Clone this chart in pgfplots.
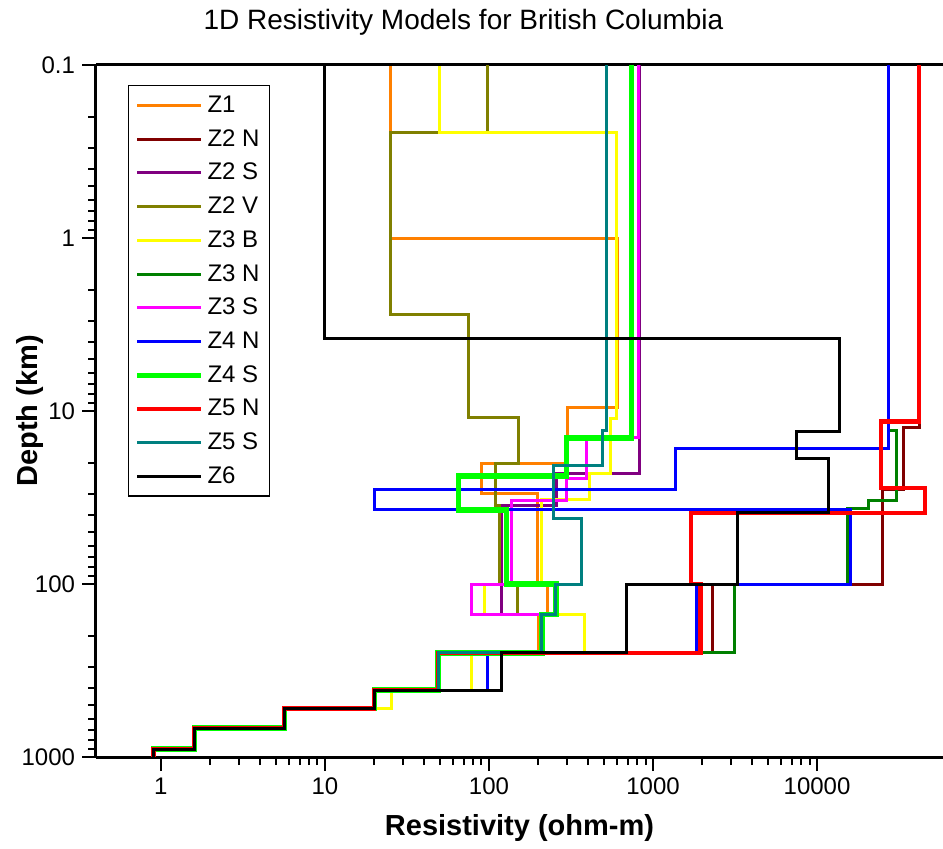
\documentclass[border=0pt]{standalone}
\usepackage{fontspec}
\setmainfont{Liberation Sans}
\usepackage{pgfplots}
\pgfplotsset{compat=1.18}
\definecolor{cZa}{RGB}{255,128,0}
\definecolor{cZb}{RGB}{128,0,0}
\definecolor{cZc}{RGB}{128,0,128}
\definecolor{cZd}{RGB}{128,128,0}
\definecolor{cZe}{RGB}{255,255,0}
\definecolor{cZf}{RGB}{0,128,0}
\definecolor{cZg}{RGB}{255,0,255}
\definecolor{cZh}{RGB}{0,0,255}
\definecolor{cZi}{RGB}{0,255,0}
\definecolor{cZj}{RGB}{255,0,0}
\definecolor{cZk}{RGB}{0,128,128}
\definecolor{cZl}{RGB}{0,0,0}
\pgfplotsset{zl/.style={line width=1.5pt}}
\begin{document}
\begin{tikzpicture}
\begin{axis}[
  at={(0,0)}, anchor=south west,
  scale only axis, width=423.5pt, height=346pt,
  xmode=log, ymode=log, y dir=reverse,
  xmin=0.402, xmax=58600, ymin=0.1, ymax=1000,
  axis x line*=box, axis y line*=left,
  xtick pos=left, ytick pos=left,
  xtick={1,10,100,1000,10000}, xticklabels={1,10,100,1000,10000},
  ytick={0.1,1,10,100,1000}, yticklabels={0.1,1,10,100,1000},
  tick align=outside,
  major tick length=7pt, minor tick length=4pt,
  every tick/.style={black, line width=1pt},
  axis line style={line width=1.5pt},
  ticklabel style={font=\fontsize{12}{14}\selectfont},
  xlabel={Resistivity (ohm-m)},
  xlabel style={at={(axis description cs:0.5,-0.1026)}, anchor=center, font=\bfseries\fontsize{14.5}{17}\selectfont},
  ylabel={Depth (km)},
  ylabel style={at={(axis description cs:-0.078,0.5)}, anchor=center, font=\bfseries\fontsize{14.5}{17}\selectfont},
  legend style={at={(axis description cs:0.0378,0.971)}, anchor=north west, draw=black, line width=0.7pt,
    font=\fontsize{12}{14}\selectfont, row sep=3pt, inner xsep=3pt, inner ysep=3pt, cells={anchor=west}},
  legend image code/.code={\draw[#1] (0pt,0pt) -- (31.7pt,0pt);},
]
\addplot[cZa, zl] coordinates {(25,0.1) (25,1) (604,1) (604,9.5) (302,9.5) (302,20.2) (90,20.2) (90,30) (199,30) (199,100) (226,100) (226,150) (200,150) (200,250) (49,250) (49,410) (20,410) (20,525) (5.65,525) (5.65,680) (1.6,680) (1.6,900) (0.9,900) (0.9,1000)};
\addlegendentry{Z1}
\addplot[cZb, zl] coordinates {(42000,0.1) (42000,12.5) (33600,12.5) (33600,28.4) (25000,28.4) (25000,100) (2290,100) (2290,250) (49,250) (49,410) (20,410) (20,525) (5.65,525) (5.65,680) (1.6,680) (1.6,900) (0.9,900) (0.9,1000)};
\addlegendentry{Z2 N}
\addplot[cZc, zl] coordinates {(830,0.1) (830,23.1) (259,23.1) (259,35) (120,35) (120,150) (208,150) (208,250) (49,250) (49,410) (20,410) (20,525) (5.65,525) (5.65,680) (1.6,680) (1.6,900) (0.9,900) (0.9,1000)};
\addlegendentry{Z2 S}
\addplot[cZd, zl] coordinates {(98,0.1) (98,0.247) (25,0.247) (25,2.75) (74.8,2.75) (74.8,10.9) (151,10.9) (151,20.2) (110,20.2) (110,35) (116,35) (116,100) (150,100) (150,150) (208,150) (208,250) (49,250) (49,410) (20,410) (20,525) (5.65,525) (5.65,680) (1.6,680) (1.6,900) (0.9,900) (0.9,1000)};
\addlegendentry{Z2 V}
\addplot[cZe, zl] coordinates {(50,0.1) (50,0.247) (600,0.247) (600,11) (547,11) (547,23.1) (409,23.1) (409,32.5) (210,32.5) (210,100) (94,100) (94,150) (380,150) (380,250) (78,250) (78,410) (25.5,410) (25.5,525) (5.65,525) (5.65,680) (1.6,680) (1.6,900) (0.9,900) (0.9,1000)};
\addlegendentry{Z3 B}
\addplot[cZf, zl] coordinates {(27100,0.1) (27100,13) (30600,13) (30600,32.7) (20600,32.7) (20600,36.5) (15300,36.5) (15300,100) (3120,100) (3120,250) (49,250) (49,410) (20,410) (20,525) (5.65,525) (5.65,680) (1.6,680) (1.6,900) (0.9,900) (0.9,1000)};
\addlegendentry{Z3 N}
\addplot[cZg, zl] coordinates {(810,0.1) (810,14.2) (394,14.2) (394,24.5) (298,24.5) (298,32.7) (138,32.7) (138,100) (78.5,100) (78.5,150) (208,150) (208,250) (49,250) (49,410) (20,410) (20,525) (5.65,525) (5.65,680) (1.6,680) (1.6,900) (0.9,900) (0.9,1000)};
\addlegendentry{Z3 S}
\addplot[cZh, zl] coordinates {(27100,0.1) (27100,16.4) (1375,16.4) (1375,28.4) (20,28.4) (20,37.3) (15900,37.3) (15900,100) (1845,100) (1845,250) (98,250) (98,410) (20,410) (20,525) (5.65,525) (5.65,680) (1.6,680) (1.6,900) (0.9,900) (0.9,1000)};
\addlegendentry{Z4 N}
\addplot[cZi, line width=2.7pt] coordinates {(740,0.1) (740,14.3) (298,14.3) (298,23.8) (65,23.8) (65,37.3) (128,37.3) (128,100) (256,100) (256,150) (210,150) (210,250) (49,250) (49,410) (20,410) (20,525) (5.65,525) (5.65,680) (1.6,680) (1.6,900) (0.9,900) (0.9,1000)};
\addlegendentry{Z4 S}
\addplot[cZj, line width=2.1pt] coordinates {(41900,0.1) (41900,11.5) (24500,11.5) (24500,28) (45600,28) (45600,39) (1706,39) (1706,100) (1950,100) (1950,250) (49,250) (49,410) (20,410) (20,525) (5.65,525) (5.65,680) (1.6,680) (1.6,900) (0.9,900) (0.9,1000)};
\addlegendentry{Z5 N}
\addplot[cZk, zl] coordinates {(521,0.1) (521,13) (493,13) (493,20.7) (249,20.7) (249,42) (368,42) (368,100) (256,100) (256,150) (210,150) (210,250) (49,250) (49,410) (20,410) (20,525) (5.65,525) (5.65,680) (1.6,680) (1.6,900) (0.9,900) (0.9,1000)};
\addlegendentry{Z5 S}
\addplot[cZl, zl] coordinates {(68,0.1) (10,0.1) (10,3.79) (13800,3.79) (13800,13.05) (7500,13.05) (7500,18.9) (11800,18.9) (11800,38.7) (3270,38.7) (3270,100) (691,100) (691,250) (120,250) (120,410) (20,410) (20,525) (5.65,525) (5.65,680) (1.6,680) (1.6,900) (0.9,900) (0.9,1000)};
\addlegendentry{Z6}
\end{axis}
\node[font=\fontsize{14}{16}\selectfont, anchor=center] at (183.75pt,367.5pt) {1D Resistivity Models for British Columbia};
\pgfresetboundingbox
\path[use as bounding box] (-48pt,-45.5pt) rectangle (423.5pt,378.5pt);
\end{tikzpicture}
\end{document}
